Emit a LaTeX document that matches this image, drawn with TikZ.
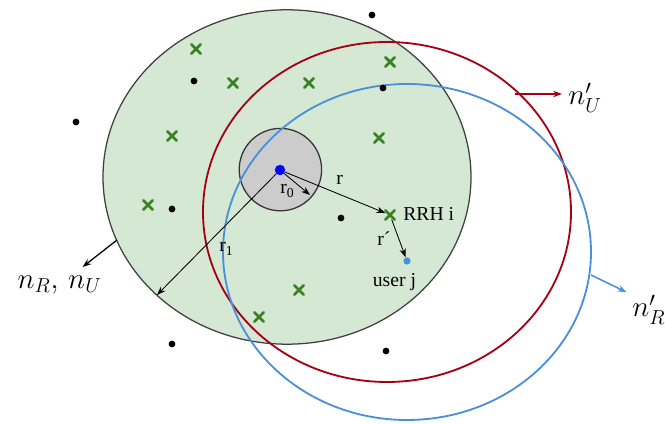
\documentclass[tikz,border=0pt]{standalone}
\usepackage{amsmath}
\usepackage{fontspec}
\setmainfont{Liberation Serif}
\usepackage{tikz}
\usetikzlibrary{shapes.misc,arrows.meta}

\definecolor{cellgreen}{HTML}{D5E8D4}
\definecolor{corefill}{HTML}{CCCCCC}
\definecolor{rrhgreen}{RGB}{56,128,34}
\definecolor{ulred}{RGB}{165,0,20}
\definecolor{dlblue}{RGB}{74,144,217}

\begin{document}
\begin{tikzpicture}[>={Stealth[length=2.2mm,width=1.6mm]},
  bs/.style={circle,fill=black,inner sep=0pt,minimum size=1.7mm},
  rrh/.style={cross out,draw=rrhgreen,line width=2pt,line cap=round,inner sep=0pt,minimum size=1.6mm},
  lbl/.style={font=\fontsize{14}{16}\selectfont,inner sep=0pt},
  bigm/.style={font=\fontsize{22}{26}\selectfont,inner sep=0pt},
  thin arrow/.style={->,line width=0.6pt}]
\useasboundingbox (0,0) rectangle (16.625,10.6);

% Zellen
\draw[fill=cellgreen,draw=black!75,line width=0.9pt] (7.175,6.175) ellipse [x radius=4.6,y radius=4.18]; %Versorgungsgebiet
\draw[fill=corefill,draw=black!80,line width=0.9pt] (7.01,6.36) circle [radius=1.03]; %Sperrzone
\draw[ulred,line width=1.3pt] (9.675,5.3) ellipse [x radius=4.6,y radius=4.25];
\draw[dlblue,line width=1.3pt] (10.175,4.3) ellipse [x radius=4.6,y radius=4.2];

% Nutzer und RRHs
\foreach \p [count=\i] in {(9.3,10.225),(4.85,8.575),(9.575,8.4),(1.9,7.55),(4.3,5.375),(8.525,5.15),(4.3,2.0),(9.65,1.825)}
  \node[bs] (u\i) at \p {};
\foreach \p [count=\i] in {(4.9,9.375),(5.825,8.525),(7.725,8.525),(9.75,9.05),(4.3,7.2),(9.475,7.15),(3.7,5.475),(7.475,3.35),(6.475,2.675)}
  \node[rrh] (x\i) at \p {};
\node[rrh] (rrhi) at (9.75,5.225) {};
\node[circle,fill=blue,inner sep=0pt,minimum size=2.6mm] (ctr) at (7.0,6.35) {};
\node[circle,fill=dlblue,inner sep=0pt,minimum size=1.8mm] (userj) at (10.175,4.075) {};

% Abstaende
\coordinate (r0end) at (7.75,5.725);
\coordinate (r1end) at (3.925,3.225);
\draw[thin arrow] (ctr) -- (r0end);
\draw[thin arrow] (ctr) -- (r1end);
\draw[thin arrow] (ctr) -- (rrhi);
\draw[thin arrow] (rrhi) -- (userj);
\node[lbl,anchor=base west] (r0) at (7.0,5.75) {r\textsubscript{0}};
\node[lbl,anchor=base west] (r1) at (5.475,4.3) {r\textsubscript{1}};
\node[lbl,anchor=base] (rlbl) at (8.49,5.975) {r};
\node[lbl,anchor=base west] (rp) at (9.425,4.45) {r´};
\node[lbl,anchor=base west] (rrhlbl) at (10.075,5.075) {RRH i};
\node[lbl,anchor=base] (userlbl) at (9.86,3.425) {user j};

% Beschriftung der Gebiete
\node[bigm] (nRU) at (1.49,3.475) {$n_R,\, n_U$};
\node[bigm,anchor=west] (nUp) at (14.2,8.15) {$n'_U$};
\node[bigm,anchor=west] (nRp) at (15.8,2.85) {$n'_R$};
\coordinate (nRUout) at (2.925,4.6);
\coordinate (nUout) at (12.875,8.25);
\coordinate (nRout) at (14.775,3.725);
\draw[->,line width=0.9pt,shorten >=3.5mm] (nRUout) -- (nRU);
\draw[->,ulred,line width=1.1pt,shorten >=1.5mm] (nUout) -- (nUp.west |- nUout);
\draw[->,dlblue,line width=1.1pt,shorten >=1.5mm] (nRout) -- (nRp.north west);

\end{tikzpicture}
\end{document}
